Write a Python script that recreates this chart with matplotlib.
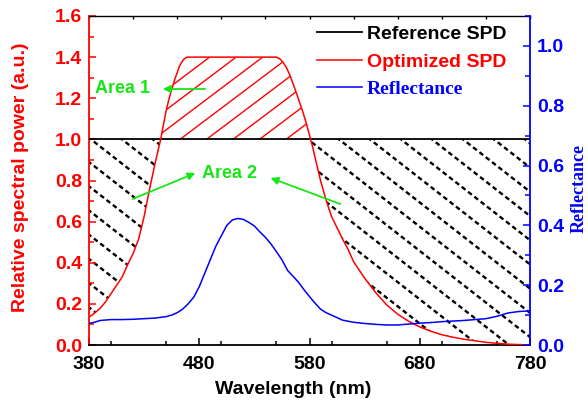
"""
Optimized vs reference SPD with object reflectance.

Left axis: relative spectral power, right axis: reflectance.
Area 1 (SPD above reference) and Area 2 (SPD below reference) are hatched.

Output:
    out.png
"""

import numpy as np
import matplotlib
matplotlib.use("Agg")
import matplotlib.pyplot as plt
from matplotlib.collections import LineCollection
from matplotlib.path import Path
from matplotlib.ticker import MultipleLocator

# Optimized SPD (red curve)
SPD_WL = [380, 385, 390, 395, 400, 405, 410, 415, 420, 425, 430, 435, 440,
          445, 448, 450, 452, 454, 456, 458, 460, 462, 464, 466, 468, 470,
          550, 553, 556, 559, 562, 565, 568, 571, 574, 577, 580, 583, 586,
          590, 595, 600, 605, 610, 615, 620, 625, 630, 635, 640, 645, 650,
          660, 670, 680, 690, 700, 710, 720, 740, 760, 780]
SPD_VALUES = [0.135, 0.155, 0.178, 0.21, 0.25, 0.29, 0.33, 0.39, 0.445,
              0.515, 0.625, 0.76, 0.885, 1.0, 1.085, 1.14, 1.185, 1.225,
              1.26, 1.295, 1.325, 1.355, 1.375, 1.39, 1.398, 1.40,
              1.40, 1.392, 1.375, 1.35, 1.315, 1.272, 1.227, 1.18, 1.133,
              1.08, 1.02, 0.96, 0.89, 0.80, 0.705, 0.625, 0.57, 0.515, 0.465,
              0.405, 0.365, 0.325, 0.29, 0.255, 0.225, 0.195, 0.15, 0.115,
              0.088, 0.067, 0.05, 0.038, 0.028, 0.013, 0.004, 0.0]

# Reference SPD (black), flat at 1.0
REF_WL = [380, 780]
REF_VALUES = [1.0, 1.0]

# Reflectance (blue curve, right axis)
REFL_WL = [380, 385, 390, 400, 410, 420, 430, 440, 450, 455, 460, 465, 470,
           475, 480, 485, 490, 495, 500, 505, 510, 515, 520, 525, 530, 535,
           540, 545, 550, 555, 560, 565, 570, 575, 580, 585, 590, 595, 600,
           610, 620, 630, 640, 650, 660, 670, 680, 690, 700, 710, 720, 730,
           740, 750, 760, 770, 780]
REFL_VALUES = [0.072, 0.076, 0.082, 0.085, 0.085, 0.086, 0.088, 0.09, 0.095,
               0.10, 0.108, 0.12, 0.138, 0.16, 0.195, 0.24, 0.285, 0.33,
               0.365, 0.40, 0.418, 0.423, 0.42, 0.41, 0.398, 0.378, 0.36,
               0.338, 0.312, 0.285, 0.25, 0.23, 0.21, 0.185, 0.162, 0.14,
               0.12, 0.108, 0.10, 0.083, 0.076, 0.072, 0.069, 0.067, 0.067,
               0.07, 0.073, 0.075, 0.078, 0.08, 0.082, 0.085, 0.088, 0.096,
               0.107, 0.112, 0.114]

XTICKS = [380, 480, 580, 680, 780]
TOP_TICKS = [380, 420, 460, 500, 540, 580, 620, 660, 700, 740, 780]

GREEN = "#19e619"
SANS = "Liberation Sans"
SERIF = "Liberation Serif"
FS = 14


def hatch_segments(ax, angle_deg, spacing_px, phase_px, base_y, rising):
    """Parallel lines in axes fraction, evenly spaced in pixels."""
    bbox = ax.get_window_extent()
    w, h = bbox.width, bbox.height
    theta = np.radians(angle_deg)
    dx = np.cos(theta)
    dy = np.sin(theta) if rising else -np.sin(theta)
    y0 = base_y * h
    reach = 2 * (w + h)
    segs = []
    for k in range(-80, 80):
        c = phase_px + k * spacing_px
        p0 = (c - reach * dx, y0 - reach * dy)
        p1 = (c + reach * dx, y0 + reach * dy)
        segs.append([(p0[0] / w, p0[1] / h), (p1[0] / w, p1[1] / h)])
    return segs


def add_hatch(ax, region, segs, **kw):
    path = Path.make_compound_path(*region.get_paths())
    lc = LineCollection(segs, transform=ax.transAxes, zorder=1.5, **kw)
    ax.add_collection(lc)
    lc.set_clip_path(path, ax.transData)


plt.rcParams["font.family"] = SANS
plt.rcParams["font.weight"] = "bold"

fig = plt.figure(figsize=(5.88, 4.01), dpi=100)
ax = fig.add_axes([89 / 588, 1 - 345 / 401, 441 / 588, 329 / 401])
ax2 = ax.twinx()

spd_wl = np.array(SPD_WL, dtype=float)
spd = np.array(SPD_VALUES)

ax.set_xlim(380, 780)
ax.set_ylim(0, 1.6)
ax2.set_ylim(0, 1.1)

# Hatched areas between the optimized and the reference SPD
area1 = ax.fill_between(spd_wl, spd, 1.0, where=spd >= 1.0, interpolate=True,
                        facecolor="none", edgecolor="none")
area2 = ax.fill_between(spd_wl, spd, 1.0, where=spd <= 1.0, interpolate=True,
                        facecolor="none", edgecolor="none")
base = 1.0 / 1.6
add_hatch(ax, area1, hatch_segments(ax, 37, 26.5, 91, base, True),
          colors="red", linewidths=1.0)
add_hatch(ax, area2, hatch_segments(ax, 38, 31, 2, base, False),
          colors="black", linewidths=1.7, linestyles=[(0, (2, 1.4))])

l_ref, = ax.plot(REF_WL, REF_VALUES, color="black", lw=1.3, zorder=3)
l_opt, = ax.plot(spd_wl, spd, color="red", lw=1.1, zorder=3)
l_refl, = ax2.plot(REFL_WL, REFL_VALUES, color="blue", lw=1.1)

# Axes styling
for side in ["top", "bottom", "left", "right"]:
    ax2.spines[side].set_visible(side == "right")
ax.spines["right"].set_visible(False)
ax.spines["left"].set_color("red")
ax.spines["left"].set_linewidth(1.3)
ax.spines["bottom"].set_linewidth(1.3)
ax.spines["top"].set_linewidth(1.0)
ax2.spines["right"].set_color("blue")
ax2.spines["right"].set_linewidth(1.3)

ax.set_xticks(XTICKS)
ax.xaxis.set_minor_locator(MultipleLocator(50))
ax.yaxis.set_major_locator(MultipleLocator(0.2))
ax.yaxis.set_minor_locator(MultipleLocator(0.1))
ax2.yaxis.set_major_locator(MultipleLocator(0.2))
ax2.yaxis.set_minor_locator(MultipleLocator(0.1))
ax.yaxis.set_major_formatter("{x:.1f}")
ax2.yaxis.set_major_formatter("{x:.1f}")

ax.tick_params(axis="x", which="both", direction="in", top=False,
               labelsize=FS, pad=8, width=1.1)
ax.tick_params(axis="x", which="major", length=5)
ax.tick_params(axis="x", which="minor", length=3)
ax.tick_params(axis="y", which="both", direction="in", colors="red",
               labelsize=FS, pad=5, width=1.1)
ax.tick_params(axis="y", which="major", length=5)
ax.tick_params(axis="y", which="minor", length=3.5)
ax2.tick_params(axis="y", which="both", direction="in", colors="blue",
                labelsize=FS, pad=5, width=1.1)
ax2.tick_params(axis="y", which="major", length=5)
ax2.tick_params(axis="y", which="minor", length=3.5)

top = ax.secondary_xaxis("top")
top.set_xticks(TOP_TICKS)
top.tick_params(direction="in", length=2.5, width=1.0, labeltop=False)
top.spines["top"].set_visible(False)

ax.set_xlabel("Wavelength (nm)", fontsize=FS, fontweight="bold")
ax.xaxis.set_label_coords(0.4626, -0.11)
ax.set_ylabel("Relative spectral power (a.u.)", fontsize=FS,
              fontweight="bold", color="red")
ax.yaxis.set_label_coords(-0.135, 0.51)
ax2.set_ylabel("Reflectance", fontsize=13, fontweight="bold", color="blue",
               family=SERIF)
ax2.yaxis.set_label_coords(1.093, 0.477)

leg = ax2.legend([l_ref, l_opt, l_refl],
                 ["Reference SPD", "Optimized SPD", "Reflectance"],
                 loc="upper left", bbox_to_anchor=(0.517, 0.971),
                 frameon=False, fontsize=FS, handlelength=2.3,
                 handletextpad=0.26, labelspacing=0.51, borderpad=0,
                 borderaxespad=0,
                 labelcolor=["black", "red", "blue"])
leg.get_texts()[2].set_fontfamily(SERIF)

# Green annotations
ax.text(385.5, 1.245, "Area 1", color=GREEN, fontsize=13, fontweight="bold",
        ha="left", va="center")
ax.annotate("", xy=(444.4, 1.245), xytext=(487.9, 1.245),
            arrowprops=dict(arrowstyle="-|>", color=GREEN, lw=1.3,
                            mutation_scale=11))
ax.text(482.4, 0.832, "Area 2", color=GREEN, fontsize=13, fontweight="bold",
        ha="left", va="center")
ax.annotate("", xy=(478.8, 0.841), xytext=(417.2, 0.705),
            arrowprops=dict(arrowstyle="-|>", color=GREEN, lw=1.3,
                            mutation_scale=11))
ax.annotate("", xy=(542.3, 0.817), xytext=(610.3, 0.681),
            arrowprops=dict(arrowstyle="-|>", color=GREEN, lw=1.3,
                            mutation_scale=11))

fig.savefig("out.png", dpi=100)
